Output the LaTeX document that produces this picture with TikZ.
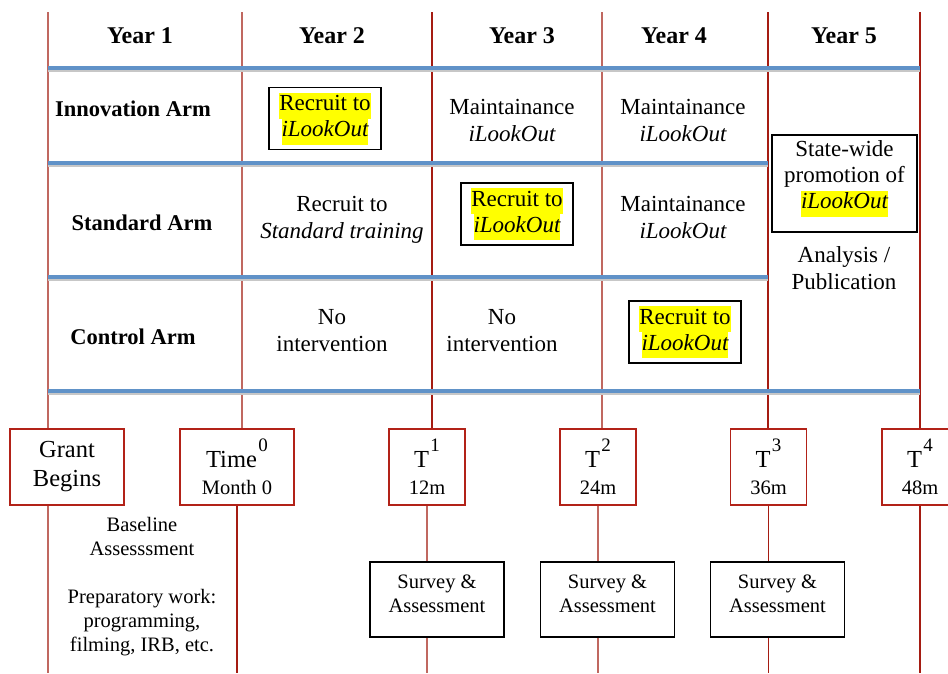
\documentclass[tikz,border=0pt]{standalone}
\usepackage{fontspec}
\setmainfont{Liberation Serif}
\definecolor{blueline}{RGB}{96,146,200}
\definecolor{redlt}{RGB}{192,104,96}
\definecolor{reddk}{RGB}{165,28,18}
\definecolor{boxred}{RGB}{178,34,24}
\definecolor{hlyellow}{RGB}{255,255,0}
\newcommand{\hlt}[1]{{\setlength{\fboxsep}{0pt}\colorbox{hlyellow}{\strut #1}}}
\newcommand{\supr}[1]{\kern1.5pt\raisebox{16pt}{\fontsize{19}{19}\selectfont #1}}
\begin{document}
\begin{tikzpicture}[x=1pt,y=-1pt,
  vlight/.style={draw=redlt,line width=1.5pt},
  vdark/.style={draw=reddk,line width=1.5pt},
  bline/.style={draw=blueline,line width=4pt},
  bshadow/.style={draw=black!22,line width=3pt},
  yearlbl/.style={font=\fontsize{24}{28}\selectfont\bfseries,anchor=base,inner sep=0pt},
  armlbl/.style={font=\fontsize{22.5}{27}\selectfont\bfseries,anchor=base,inner sep=0pt},
  cell/.style={font=\fontsize{23}{27}\selectfont,align=center,inner sep=0pt},
  hlbox/.style={draw=black,line width=1.8pt,font=\fontsize{23}{26}\selectfont,align=center,inner xsep=10pt,inner ysep=5pt},
  swbox/.style={draw=black,line width=1.8pt,minimum width=145pt,minimum height=97pt,inner sep=0pt},
  gbox/.style={draw=boxred,line width=1.6pt,minimum width=114pt,minimum height=76pt,inner sep=0pt,align=center,font=\fontsize{24.5}{29}\selectfont},
  tbox/.style={draw=boxred,line width=1.6pt,minimum width=76pt,minimum height=76pt,inner sep=0pt,align=center,font=\fontsize{24.5}{29}\selectfont},
  sbox/.style={draw=black,line width=1.6pt,minimum width=134pt,minimum height=75pt,inner sep=0pt},
  small/.style={font=\fontsize{20.5}{24}\selectfont,align=center,inner sep=0pt}
]
\clip (0,0) rectangle (948,673);
\fill[white] (0,0) rectangle (948,673);

% coordinates
\coordinate (c1) at (48,12);
\coordinate (c2) at (242,12);
\coordinate (c3) at (432,12);
\coordinate (c4) at (602,12);
\coordinate (c5) at (768,12);
\coordinate (c6) at (920,12);
\coordinate (bot) at (0,673);
\coordinate (h1l) at (48,68);  \coordinate (h1r) at (920,68);
\coordinate (h2l) at (48,163); \coordinate (h2r) at (768,163);
\coordinate (h3l) at (48,277); \coordinate (h3r) at (768,277);
\coordinate (h4l) at (48,391); \coordinate (h4r) at (920,391);

% bottom boxes
\node[gbox] (grant) at (67,467) {Grant\\Begins};
\node[gbox] (time0) at (237,467) {Time\supr{0}\\[-2pt]{\fontsize{20.5}{24}\selectfont Month 0}};
\node[tbox] (t1) at (427,467) {T\supr{1}\\[-2pt]{\fontsize{20.5}{24}\selectfont 12m}};
\node[tbox] (t2) at (598,467) {T\supr{2}\\[-2pt]{\fontsize{20.5}{24}\selectfont 24m}};
\node[tbox] (t3) at (768.5,467) {T\supr{3}\\[-2pt]{\fontsize{20.5}{24}\selectfont 36m}};
\node[tbox] (t4) at (920,467) {T\supr{4}\\[-2pt]{\fontsize{20.5}{24}\selectfont 48m}};
\node[sbox] (s1) at (437,599.5) {};
\node[sbox] (s2) at (607.5,599.5) {};
\node[sbox] (s3) at (777.5,599.5) {};
\node[small] (s1t) at (437,596) {\strut Survey \&\\\strut Assessment};
\node[small] (s2t) at (607.5,596) {\strut Survey \&\\\strut Assessment};
\node[small] (s3t) at (777.5,596) {\strut Survey \&\\\strut Assessment};

% vertical lines above boxes
\draw[vlight] (c1) -- (c1 |- grant.north);
\draw[vlight] (c2) -- (c2 |- time0.north);
\draw[vdark]  (c3) -- (c3 |- t1.north);
\draw[vlight] (c4) -- (c4 |- t2.north);
\draw[vdark]  (c5) -- (c5 |- t3.north);
\draw[vdark]  (c6) -- (c6 |- t4.north);
% vertical lines below boxes
\draw[vlight] (c1 |- grant.south) -- (c1 |- bot);
\draw[vdark]  (time0.south) -- (time0.south |- bot);
\draw[vlight] (t1.south) -- (t1.south |- s1.north);
\draw[vlight] (t1.south |- s1.south) -- (t1.south |- bot);
\draw[vlight] (t2.south) -- (t2.south |- s2.north);
\draw[vlight] (t2.south |- s2.south) -- (t2.south |- bot);
\draw[vdark]  (t3.south) -- (t3.south |- s3.north);
\draw[vdark]  (t3.south |- s3.south) -- (t3.south |- bot);
\draw[vdark]  (t4.south) -- (t4.south |- bot);

% blue horizontal lines with shadow
\foreach \a/\b in {h1l/h1r,h2l/h2r,h3l/h3r,h4l/h4r}{
  \draw[bshadow] ([yshift=-2.2pt]\a) -- ([yshift=-2.2pt]\b);
  \draw[bline] (\a) -- (\b);
}

% headers
\node[yearlbl] (y1) at (140,43) {Year 1};
\node[yearlbl] (y2) at (332,43) {Year 2};
\node[yearlbl] (y3) at (522,43) {Year 3};
\node[yearlbl] (y4) at (674,43) {Year 4};
\node[yearlbl] (y5) at (844,43) {Year 5};

\node[armlbl] (arm1) at (133,116) {Innovation Arm};
\node[armlbl] (arm2) at (142,230.5) {Standard Arm};
\node[armlbl] (arm3) at (133,344) {Control Arm};

% cells
\node[hlbox] (ri) at (325,118.5) {\hlt{Recruit to}\\\hlt{\itshape iLookOut}};
\node[cell] (m3i) at (512,123) {\strut Maintainance\\\strut\itshape iLookOut};
\node[cell] (m4i) at (683,123) {\strut Maintainance\\\strut\itshape iLookOut};

\node[cell] (rs) at (342,220) {\strut Recruit to\\\strut\itshape Standard training};
\node[hlbox] (rs3) at (517,214) {\hlt{Recruit to}\\\hlt{\itshape iLookOut}};
\node[cell] (m4s) at (683,220) {\strut Maintainance\\\strut\itshape iLookOut};

\node[cell] (n2) at (332,333) {\strut No\\\strut intervention};
\node[cell] (n3) at (502,333) {\strut No\\\strut intervention};
\node[hlbox] (rc4) at (685,332) {\hlt{Recruit to}\\\hlt{\itshape iLookOut}};

\node[swbox] (sw) at (844.5,183.5) {};
\node[cell,font=\fontsize{23}{26}\selectfont] (swt) at (844.5,177.5) {\strut State-wide\\\strut promotion of\\\hlt{\itshape iLookOut}};
\node[cell] (an) at (844,271) {\strut Analysis /\\\strut Publication};

% year 1 notes
\node[small] (base) at (142,539) {\strut Baseline\\\strut Assesssment};
\node[small] (prep) at (142,623) {\strut Preparatory work:\\\strut programming,\\\strut filming, IRB, etc.};
\end{tikzpicture}
\end{document}
